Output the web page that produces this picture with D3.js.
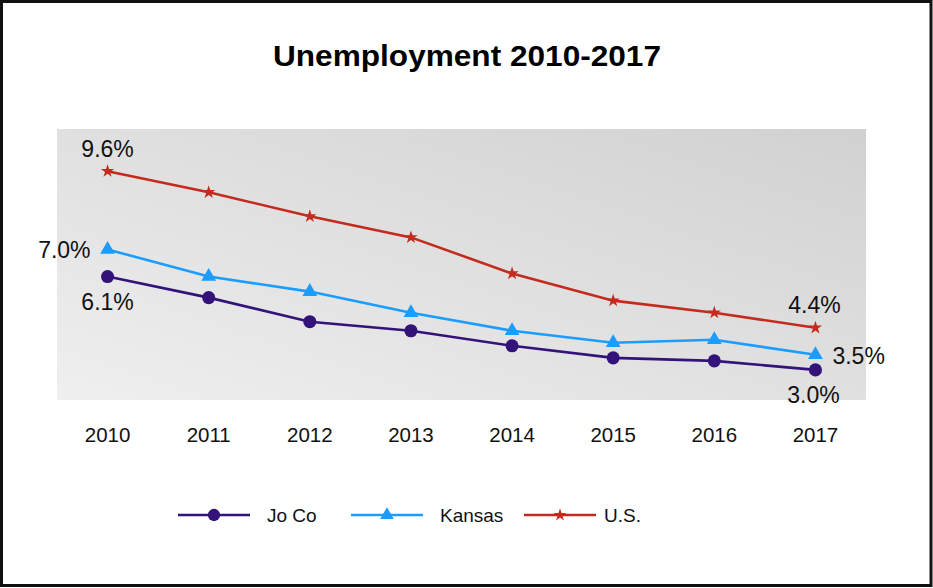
<!DOCTYPE html>
<html>
<head>
<meta charset="utf-8">
<script src="https://cdn.jsdelivr.net/npm/d3@7"></script>
<style>
  html, body { margin: 0; padding: 0; background: #fff; }
  svg { display: block; font-family: "Liberation Sans", Arial, sans-serif; }
</style>
</head>
<body>
<svg id="chart" width="933" height="588"></svg>
<script>
// Unemployment rate (%) by year
const years = ["2010", "2011", "2012", "2013", "2014", "2015", "2016", "2017"];
const joCo = [6.1, 5.4, 4.6, 4.3, 3.8, 3.4, 3.3, 3.0];
const kansas = [7.0, 6.1, 5.6, 4.9, 4.3, 3.9, 4.0, 3.5];
const us = [9.6, 8.9, 8.1, 7.4, 6.2, 5.3, 4.9, 4.4];
const seriesNames = ["Jo Co", "Kansas", "U.S."];

const series = [
  { name: seriesNames[0], values: joCo, color: "#33137a", symbol: d3.symbolCircle, size: 135, legendSize: 120 },
  { name: seriesNames[1], values: kansas, color: "#1a9dff", symbol: d3.symbolTriangle, size: 95, legendSize: 80 },
  { name: seriesNames[2], values: us, color: "#c42a1e", symbol: d3.symbolStar, size: 55, legendSize: 50 }
];

const svg = d3.select("#chart");
const plot = { left: 57, right: 866, top: 129, bottom: 400 };

const x = d3.scaleBand().domain(years).range([plot.left, plot.right]);
const y = d3.scaleLinear().domain([2, 11]).range([plot.bottom, plot.top]);
const cx = d => x(d) + x.bandwidth() / 2;

// Plot-area gradient fill
const defs = svg.append("defs");
const grad = defs.append("linearGradient")
  .attr("id", "plotBg").attr("x1", 0).attr("y1", 1).attr("x2", 1).attr("y2", 0);
grad.append("stop").attr("offset", "0%").attr("stop-color", "#efefef");
grad.append("stop").attr("offset", "100%").attr("stop-color", "#d1d1d1");

svg.append("rect")
  .attr("x", plot.left).attr("y", plot.top)
  .attr("width", plot.right - plot.left).attr("height", plot.bottom - plot.top)
  .attr("fill", "url(#plotBg)");

// Title
svg.append("text")
  .attr("x", 467).attr("y", 66)
  .attr("text-anchor", "middle")
  .attr("font-size", 29).attr("font-weight", "bold")
  .attr("textLength", 388).attr("lengthAdjust", "spacingAndGlyphs")
  .attr("fill", "#000")
  .text("Unemployment 2010-2017");

// X axis (labels only)
const xAxis = svg.append("g")
  .attr("transform", `translate(0,${plot.bottom})`)
  .call(d3.axisBottom(x).tickSize(0).tickPadding(27));
xAxis.select(".domain").remove();
xAxis.selectAll("text").attr("font-size", 20.5).attr("fill", "#111")
  .attr("font-family", "Liberation Sans, Arial, sans-serif");

// Lines and markers
const line = d3.line().x((d, i) => cx(years[i])).y(d => y(d));
series.forEach(s => {
  svg.append("path")
    .datum(s.values)
    .attr("d", line)
    .attr("fill", "none")
    .attr("stroke", s.color)
    .attr("stroke-width", 2.6);
  svg.append("g").selectAll("path")
    .data(s.values)
    .join("path")
    .attr("transform", (d, i) => `translate(${cx(years[i])},${y(d)})`)
    .attr("d", d3.symbol().type(s.symbol).size(s.size))
    .attr("fill", s.color);
});

// Data labels at start and end of each series
const fmt = v => v.toFixed(1) + "%";
const labels = [
  { v: us[0], px: cx(years[0]), dy: -14, anchor: "middle" },
  { v: kansas[0], px: cx(years[0]) - 17, dy: 9, anchor: "end" },
  { v: joCo[0], px: cx(years[0]), dy: 33, anchor: "middle" },
  { v: us[7], px: cx(years[7]) - 1, dy: -15, anchor: "middle" },
  { v: kansas[7], px: cx(years[7]) + 17, dy: 9, anchor: "start" },
  { v: joCo[7], px: cx(years[7]) - 2, dy: 33, anchor: "middle" }
];
svg.append("g").selectAll("text")
  .data(labels)
  .join("text")
  .attr("x", d => d.px)
  .attr("y", d => y(d.v) + d.dy)
  .attr("text-anchor", d => d.anchor)
  .attr("font-size", 23)
  .attr("fill", "#111")
  .text(d => fmt(d.v));

// Legend
const legendY = 515;
const legendX = [178, 351, 524];
const legendTextX = [89, 89, 80];
const leg = svg.append("g").selectAll("g")
  .data(series)
  .join("g")
  .attr("transform", (d, i) => `translate(${legendX[i]},${legendY})`);
leg.append("line")
  .attr("x1", 0).attr("x2", 72).attr("y1", 0).attr("y2", 0)
  .attr("stroke", d => d.color).attr("stroke-width", 2.6);
leg.append("path")
  .attr("transform", "translate(36,0)")
  .attr("d", d => d3.symbol().type(d.symbol).size(d.legendSize)())
  .attr("fill", d => d.color);
leg.append("text")
  .attr("x", (d, i) => legendTextX[i]).attr("y", 7)
  .attr("font-size", 19).attr("fill", "#111")
  .text(d => d.name);

// Outer frame
svg.append("rect")
  .attr("x", 1.5).attr("y", 1.5).attr("width", 929.5).attr("height", 584)
  .attr("fill", "none").attr("stroke", "#111").attr("stroke-width", 3);
</script>
</body>
</html>
